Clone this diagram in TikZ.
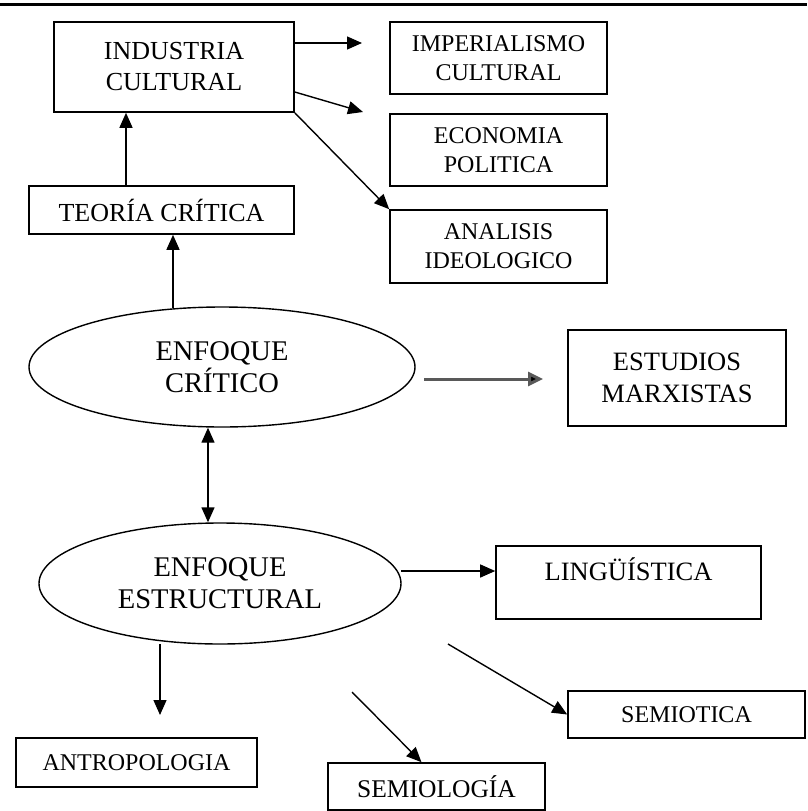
\documentclass[tikz,border=0pt]{standalone}
\usepackage{fontspec}
\setmainfont{Liberation Serif}
\usetikzlibrary{arrows.meta,shapes.geometric,calc}
\tikzset{
  box/.style={draw, line width=1.6pt, inner sep=0pt, align=center, text=black},
  ell/.style={draw, ellipse, line width=1.4pt, inner sep=0pt, align=center, text=black,
              font=\fontsize{28.5}{32}\selectfont},
  arr/.style={line width=1.4pt, -{Triangle[length=15pt,width=13pt]}},
  darr/.style={line width=1.4pt, {Triangle[length=15pt,width=13pt]}-{Triangle[length=15pt,width=13pt]}},
  garr/.style={line width=3pt, draw=black!65, -{Triangle[length=15pt,width=14pt,fill=black]}},
  fa/.style={font=\fontsize{26}{31}\selectfont},
  fb/.style={font=\fontsize{24}{29}\selectfont},
}
\begin{document}
\begin{tikzpicture}[x=1pt,y=-1pt]
\useasboundingbox (0,0) rectangle (807,811);
\draw[line width=3.5pt] (0,4.7) -- (807,4.7);

% top group
\node[box, fa, minimum width=240, minimum height=90] (ind) at (174,67) {INDUSTRIA\\CULTURAL};
\node[box, fa, minimum width=265, minimum height=48] (teo) at (161.5,210) {TEORÍA CRÍTICA};
\node[box, fb, minimum width=217, minimum height=72] (imp) at (498.5,58) {IMPERIALISMO\\CULTURAL};
\node[box, fb, minimum width=217, minimum height=72] (eco) at (498.5,150) {ECONOMIA\\POLITICA};
\node[box, fb, minimum width=217, minimum height=73] (ana) at (498.5,246.5) {ANALISIS\\IDEOLOGICO};

% ellipses
\node[ell, minimum width=386, minimum height=120] (ec) at (222,367) {ENFOQUE\\CRÍTICO};
\node[ell, minimum width=362, minimum height=121] (ee) at (220,583.5) {ENFOQUE\\ESTRUCTURAL};

\node[box, font=\fontsize{26.5}{32}\selectfont, minimum width=218, minimum height=96] (est) at (677,378) {ESTUDIOS\\MARXISTAS};
\node[box, font=\fontsize{26.5}{31}\selectfont, minimum width=265, minimum height=73, text height=17pt, text depth=22pt] (ling) at (628.5,582.5) {LINGÜÍSTICA};
\node[box, fb, minimum width=237, minimum height=47] (semt) at (686.5,714.5) {SEMIOTICA};
\node[box, fb, minimum width=241, minimum height=49] (ant) at (136.5,762.5) {ANTROPOLOGIA};
\node[box, font=\fontsize{25.5}{30}\selectfont, minimum width=217, minimum height=47] (sml) at (436.5,786.5) {SEMIOLOGÍA};

% connector coordinates
\coordinate (x126) at (126,0);
\coordinate (x173) at (173,0);
\coordinate (x208) at (208,0);
\coordinate (i1e) at (362,43);
\coordinate (i2s) at (296,92);
\coordinate (i2e) at (363,112);
\coordinate (g1) at (424,379);
\coordinate (g2) at (543,379);
\coordinate (l1) at (401,571);
\coordinate (d1) at (160,644);
\coordinate (d2) at (160,715);
\coordinate (s1) at (448,644);
\coordinate (m1) at (352,692);

% connectors
\draw[arr] (teo.north -| x126) -- (ind.south -| x126);
\draw[arr] ($(ec.north -| x173)+(0,2)$) -- (teo.south -| x173);
\draw[arr] (ind.east |- i1e) -- (i1e);
\draw[arr] (ind.east |- i2s) -- (i2e);
\draw[arr] (ind.south east) -- (ana.north west);
\draw[darr] (ec.south -| x208) -- (ee.north -| x208);
\draw[garr] (g1) -- (g2);
\draw[arr] (l1) -- (ling.west |- l1);
\draw[arr] (d1) -- (d2);
\draw[arr] (s1) -- (semt.west);
\draw[arr] (m1) -- ($(sml.north)+(-15,0)$);
\end{tikzpicture}
\end{document}
